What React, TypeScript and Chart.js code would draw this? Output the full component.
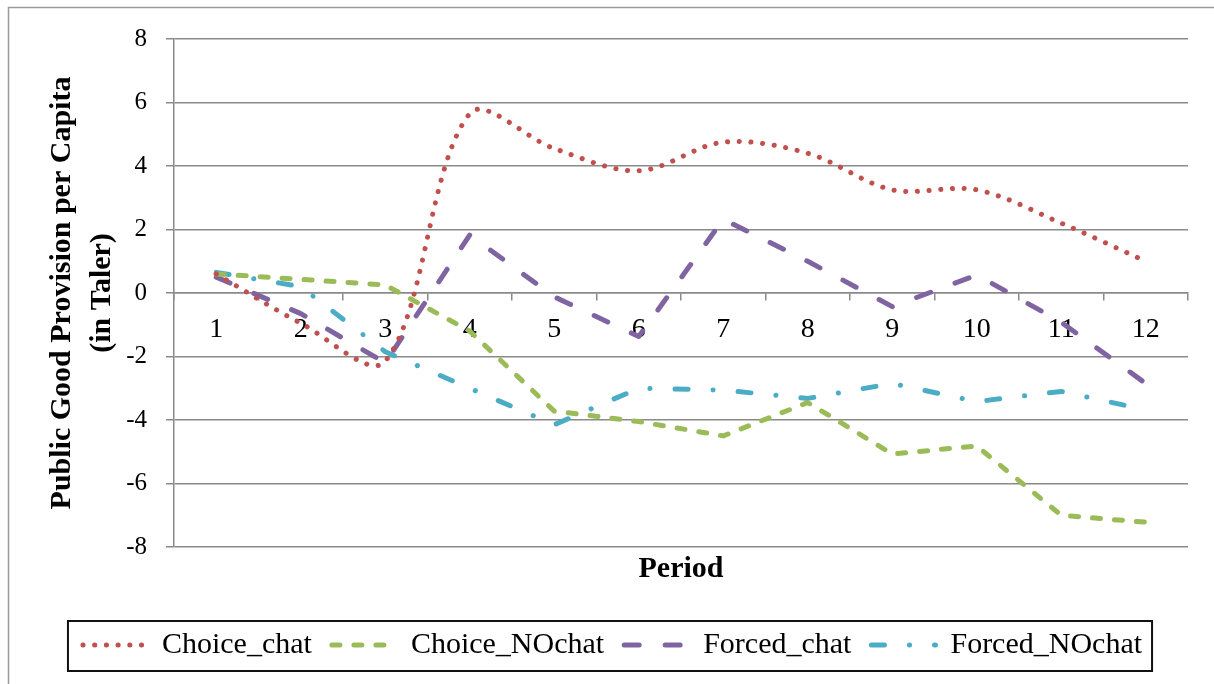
import React, { useEffect, useRef } from 'react';
import { Chart, registerables } from 'chart.js';

Chart.register(...registerables);

const periods = ['1', '2', '3', '4', '5', '6', '7', '8', '9', '10', '11', '12'];
const choiceChat = [0.6, -0.95, -2.15, 5.65, 4.55, 3.85, 4.75, 4.4, 3.25, 3.25, 2.2, 1.0];
const choiceNOchat = [0.6, 0.43, 0.25, -1.2, -3.72, -4.05, -4.5, -3.45, -5.07, -4.82, -7.0, -7.22];
const forcedChat = [0.5, -0.65, -2.2, 1.83, -0.12, -1.37, 2.32, 1.0, -0.43, 0.57, -0.92, -2.85];
const forcedNOchat = [0.65, 0.2, -1.85, -3.0, -4.15, -3.0, -3.06, -3.32, -2.85, -3.42, -3.1, -3.68];
const yMin = -8;
const yMax = 8;
const yStep = 2;

const FONT = "'Liberation Serif', 'Times New Roman', serif";
const GRID = '#8a8a8a';

const framePlugin = {
  id: 'frame',
  beforeDraw(chart: any) {
    const ctx = chart.ctx;
    ctx.save();
    ctx.strokeStyle = '#9a9a9a';
    ctx.lineWidth = 1.5;
    ctx.strokeRect(8.5, 7.5, 1400, 1000);
    ctx.restore();
  },
  afterDraw(chart: any) {
    const lg = chart.legend;
    if (!lg || !lg.legendHitBoxes || !lg.legendHitBoxes.length) return;
    const hb = lg.legendHitBoxes;
    const first = hb[0];
    const last = hb[hb.length - 1];
    const x0 = first.left - 15;
    const x1 = last.left + last.width + 10;
    const y0 = first.top - 9;
    const y1 = first.top + 41;
    const ctx = chart.ctx;
    ctx.save();
    ctx.strokeStyle = '#111';
    ctx.lineWidth = 2;
    ctx.setLineDash([]);
    ctx.strokeRect(x0, y0, x1 - x0, y1 - y0);
    ctx.restore();
  },
};

export default function App() {
  const ref = useRef<HTMLCanvasElement | null>(null);

  useEffect(() => {
    if (!ref.current) return;
    const common = { pointRadius: 0, pointHoverRadius: 0, fill: false, borderWidth: 5, borderCapStyle: 'round' as const, borderJoinStyle: 'round' as const };
    const chart = new Chart(ref.current, {
      type: 'line',
      data: {
        labels: periods,
        datasets: [
          { ...common, label: 'Choice_chat', data: choiceChat, borderColor: '#C0504D', backgroundColor: '#C0504D', borderDash: [0.1, 11.6], tension: 0.33 },
          { ...common, label: 'Choice_NOchat', data: choiceNOchat, borderColor: '#9BBB59', backgroundColor: '#9BBB59', borderDash: [8, 14], tension: 0 },
          { ...common, label: 'Forced_chat', data: forcedChat, borderColor: '#8064A2', backgroundColor: '#8064A2', borderDash: [15, 26], tension: 0 },
          { ...common, label: 'Forced_NOchat', data: forcedNOchat, borderColor: '#4BACC6', backgroundColor: '#4BACC6', borderDash: [13, 25, 0.1, 25], tension: 0 },
        ],
      },
      options: {
        responsive: false,
        animation: false,
        layout: { padding: { left: 37, right: 26, top: 39, bottom: 14 } },
        plugins: {
          legend: {
            position: 'bottom',
            labels: {
              usePointStyle: true,
              pointStyle: 'line',
              pointStyleWidth: 64,
              padding: 20,
              color: '#000',
              font: { family: FONT, size: 30 },
              generateLabels: (c: any) => {
                const items = Chart.defaults.plugins.legend.labels.generateLabels(c);
                return items.map((it: any) => {
                  const ds: any = c.data.datasets[it.datasetIndex];
                  return {
                    ...it,
                    pointStyle: 'line',
                    strokeStyle: ds.borderColor,
                    fillStyle: ds.borderColor,
                    lineWidth: ds.borderWidth,
                    lineDash: ds.borderDash,
                    lineDashOffset: 0,
                    lineCap: 'round',
                  };
                });
              },
            },
          },
          tooltip: { enabled: false },
        },
        scales: {
          x: {
            type: 'category',
            position: { y: 0 } as any,
            offset: true,
            grid: { drawOnChartArea: false, offset: true, drawTicks: true, tickLength: 7, color: GRID, lineWidth: 1.5 },
            border: { display: true, color: GRID, width: 1.5 },
            ticks: { color: '#000', font: { family: FONT, size: 28 }, padding: 13, autoSkip: false, maxRotation: 0 },
            afterFit: (scale: any) => { scale.height = 0; },
          },
          x2: {
            type: 'category',
            labels: periods,
            position: 'bottom',
            grid: { display: false, drawTicks: false },
            border: { display: false },
            ticks: { display: false },
            title: { display: true, text: 'Period', color: '#000', font: { family: FONT, size: 30, weight: 'bold' }, padding: { top: 4, bottom: 23 } },
          },
          y: {
            min: yMin,
            max: yMax,
            ticks: { stepSize: yStep, color: '#000', font: { family: FONT, size: 25 }, padding: 19 },
            grid: { color: GRID, lineWidth: 1.5, tickLength: 8 },
            border: { display: true, color: GRID, width: 1.5 },
            title: {
              display: true,
              text: ['Public Good Provision per Capita', '(in Taler)'],
              color: '#000',
              font: { family: FONT, size: 30, weight: 'bold', lineHeight: 1.333 },
              padding: { top: 5, bottom: 0 },
            },
            afterFit: (scale: any) => { scale.width = 137; },
          },
        },
      },
      plugins: [framePlugin],
    });
    return () => chart.destroy();
  }, []);

  return (
    <div style={{ position: 'fixed', left: 0, top: 0, width: 1214, height: 684, overflow: 'hidden', background: '#fff' }}>
      <canvas ref={ref} width={1214} height={684} style={{ display: 'block' }} />
    </div>
  );
}
